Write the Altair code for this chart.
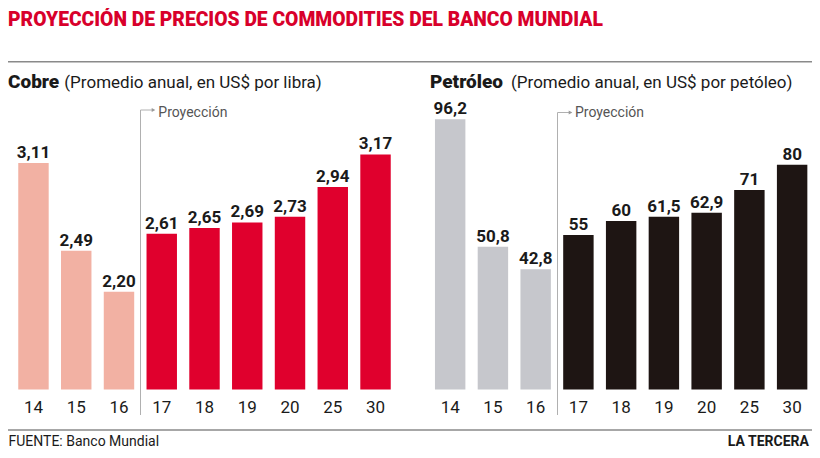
import altair as alt
import pandas as pd

# ---- data ----
years = ["14", "15", "16", "17", "18", "19", "20", "25", "30"]
cobre = [3.11, 2.49, 2.20, 2.61, 2.65, 2.69, 2.73, 2.94, 3.17]
petroleo = [96.2, 50.8, 42.8, 55, 60, 61.5, 62.9, 71, 80]
periodo = ["hist", "hist", "hist", "proy", "proy", "proy", "proy", "proy", "proy"]

title_text = "PROYECCIÓN DE PRECIOS DE COMMODITIES DEL BANCO MUNDIAL"
cobre_bold, cobre_sub = "Cobre", "(Promedio anual, en US$ por libra)"
pet_bold, pet_sub = "Petróleo", "(Promedio anual, en US$ por petóleo)"
proy_text = "Proyección"
fuente_text = "FUENTE: Banco Mundial"
brand_text = "LA TERCERA"

cobre_df = pd.DataFrame({
    "year": years, "value": cobre, "periodo": periodo,
    "label": [f"{v:.2f}".replace(".", ",") for v in cobre],
})
pet_df = pd.DataFrame({
    "year": years, "value": petroleo, "periodo": periodo,
    "label": [f"{v:g}".replace(".", ",") for v in petroleo],
})

FONT = "Roboto"
DARK = "#1a1a1a"
W, H = 804, 442
BOTTOM = 381.5


def panel(df, xrange, ydomain, yrange, base, colors):
    xs = alt.Scale(domain=years, range=xrange, paddingInner=0.288, paddingOuter=0.144)
    ys = alt.Scale(domain=ydomain, range=yrange, zero=False, nice=False)
    x = alt.X("year:N", sort=years, scale=xs, axis=None)
    bars = alt.Chart(df).mark_bar().encode(
        x=x,
        y=alt.Y("value:Q", scale=ys, axis=None),
        y2=alt.datum(base),
        color=alt.Color("periodo:N", scale=alt.Scale(domain=["hist", "proy"], range=colors), legend=None),
    )
    labels = alt.Chart(df).mark_text(
        font=FONT, fontSize=17, fontWeight="bold", color=DARK, baseline="alphabetic", dy=-5
    ).encode(x=x, y=alt.Y("value:Q", scale=ys, axis=None), text="label:N")
    yrs = alt.Chart(df).mark_text(
        font=FONT, fontSize=17, color=DARK, baseline="alphabetic"
    ).encode(x=x, y=alt.value(404.5), text="year:N")
    return alt.layer(bars, labels, yrs)


cobre_panel = panel(cobre_df, [4.1, 388.9], [1.51, 3.5], [BOTTOM, BOTTOM - 1.99 * 141.6], 1.51,
                    ["#f2b1a3", "#e0002d"])
pet_panel = panel(pet_df, [420.8, 805.5], [0, 100], [BOTTOM, BOTTOM - 100 * 2.809], 0,
                  ["#c6c7cc", "#1e1513"])

one = pd.DataFrame({"k": [0]})


def txt(text, x, y, size, weight="normal", color=DARK, align="left"):
    return alt.Chart(one).mark_text(
        font=FONT, fontSize=size, fontWeight=weight, color=color, align=align, baseline="alphabetic"
    ).encode(x=alt.value(x), y=alt.value(y), text=alt.value(text))


def hline(x1, x2, y, color="#8a8a8a", w=1.5):
    return alt.Chart(one).mark_rule(color=color, strokeWidth=w).encode(
        x=alt.value(x1), x2=alt.value(x2), y=alt.value(y))


def vline(x, y1, y2, color="#b0b0b0", w=1):
    return alt.Chart(one).mark_rule(color=color, strokeWidth=w).encode(
        x=alt.value(x), y=alt.value(y1), y2=alt.value(y2))


def arrowhead(x, y):
    return alt.Chart(one).mark_point(shape="triangle-right", filled=True, color="#9a9a9a", size=18, opacity=1).encode(
        x=alt.value(x), y=alt.value(y))


deco = [
    txt(title_text, 0, 17.5, 19.3, 900, "#d8002b"),
    hline(0, W, 53.7),
    txt(cobre_bold, 0, 80, 19, 900),
    txt(cobre_sub, 56.3, 80, 17),
    txt(pet_bold, 422, 80, 19, 900),
    txt(pet_sub, 503, 80, 17),
    vline(132.5, 102, 407),
    hline(132.5, 144, 102, "#b0b0b0", 1),
    arrowhead(145.5, 102),
    txt(proy_text, 150.3, 108.7, 14, color="#555555"),
    vline(549.5, 104.5, 407),
    hline(549.5, 561, 104.5, "#b0b0b0", 1),
    arrowhead(562.5, 104.5),
    txt(proy_text, 567, 108.7, 14, color="#555555"),
    hline(0, W, 422),
    txt(fuente_text, 0.5, 438, 14),
    txt(brand_text, 801, 438, 14, "bold", align="right"),
]

chart = alt.layer(cobre_panel, pet_panel, *deco).resolve_scale(
    x="independent", y="independent", color="independent"
).properties(
    width=W, height=H, autosize=alt.AutoSizeParams(type="none"), padding=0
).configure_view(stroke=None)

chart.save("out.html", embed_options={"renderer": "svg", "actions": False})
